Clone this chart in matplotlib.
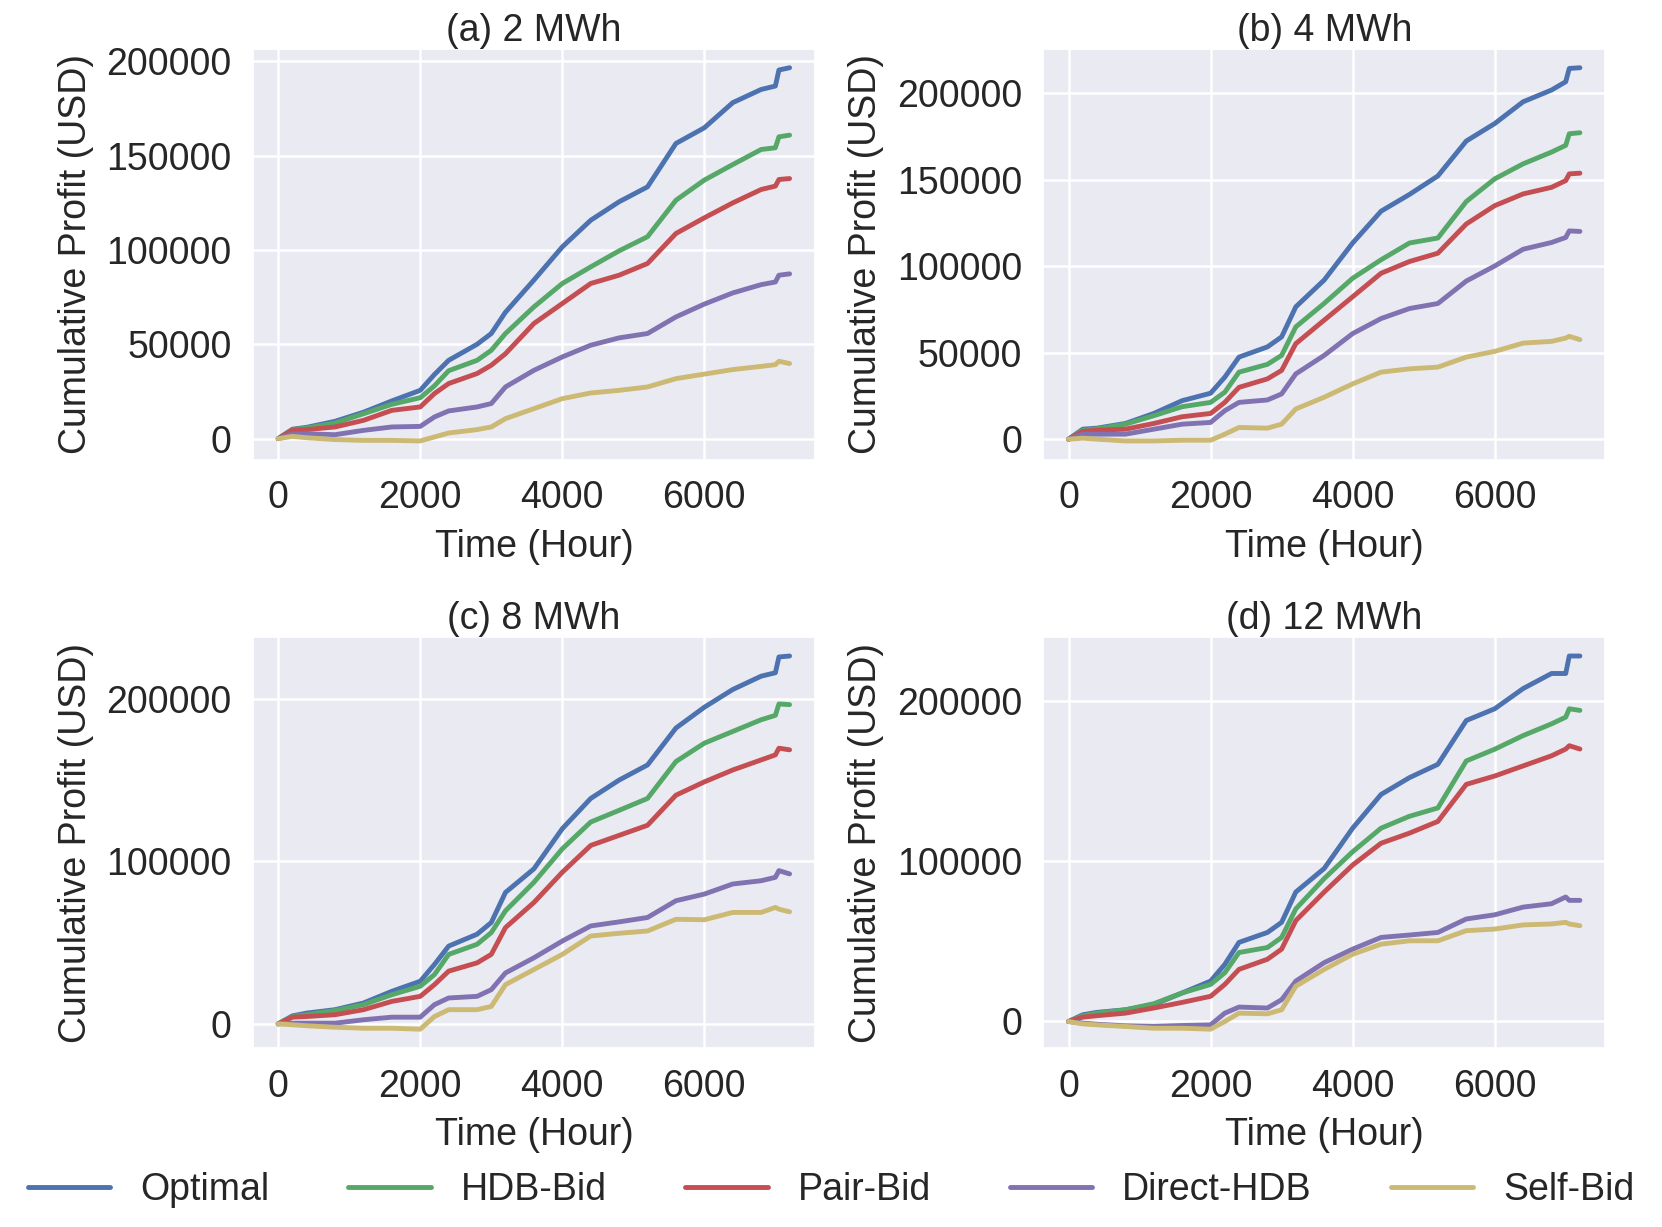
import matplotlib
matplotlib.use("Agg")
import matplotlib.pyplot as plt
from matplotlib.ticker import MultipleLocator
import seaborn as sns

hours = [0, 200, 400, 800, 1200, 1600, 2000, 2200, 2400, 2800, 3000, 3200,
         3600, 4000, 4400, 4800, 5200, 5600, 6000, 6400, 6800, 7000, 7050, 7200]

methods = ["Optimal", "HDB-Bid", "Pair-Bid", "Direct-HDB", "Self-Bid"]
colors = ["#4C72B0", "#55A868", "#C44E52", "#8172B2", "#CCB974"]

titles = ["(a) 2 MWh", "(b) 4 MWh", "(c) 8 MWh", "(d) 12 MWh"]

# (a) 2 MWh
a_optimal = [0, 5000, 6000, 9200, 14000, 20000, 25600, 34000, 41500, 50000, 55700, 67000,
             84000, 101600, 115700, 125500, 133400, 156400, 164700, 178000, 185000, 186800, 195300, 196500]
a_hdb = [0, 4800, 5600, 8300, 13200, 18200, 21700, 28000, 36000, 41500, 46800, 55700,
         69800, 82200, 91000, 99500, 107000, 126300, 137000, 145200, 153200, 154100, 159900, 160800]
a_pair = [0, 4500, 4800, 6200, 9700, 15000, 16800, 23900, 29200, 34500, 38900, 45000,
          61000, 71600, 82200, 86600, 92800, 108700, 117000, 124900, 132000, 133800, 137300, 137800]
a_direct = [0, 2500, 2600, 2100, 4400, 6200, 6500, 11500, 14700, 16800, 18600, 27400,
            36200, 43300, 49500, 53400, 55700, 64500, 71300, 77200, 81600, 83000, 86600, 87300]
a_self = [0, 1200, 500, -500, -900, -900, -1200, 900, 3000, 4800, 6200, 10600,
          15900, 21200, 24200, 25600, 27400, 31800, 34200, 36600, 38300, 39200, 41000, 39800]

# (b) 4 MWh
b_optimal = [0, 5800, 6400, 9100, 14900, 22300, 26600, 35900, 47500, 53400, 59200, 76600,
             92100, 113500, 131900, 141600, 152300, 172500, 182600, 195200, 202000, 206800, 214500, 214900]
b_hdb = [0, 5200, 6000, 8700, 13600, 18800, 21300, 27200, 38800, 43300, 48500, 65000,
         78600, 93100, 103800, 113500, 116400, 137500, 150600, 159300, 166100, 170000, 176700, 177300]
b_pair = [0, 4500, 5200, 5800, 9100, 13000, 14900, 21300, 30000, 34900, 39800, 55300,
          68900, 82400, 96000, 102800, 107600, 124500, 135100, 141900, 145700, 149600, 153500, 153900]
b_direct = [0, 2900, 2900, 2900, 5800, 8700, 9700, 16500, 21300, 22700, 26200, 37800,
            48500, 61100, 69800, 75600, 78500, 91500, 100200, 109900, 113800, 116700, 120500, 120200]
b_self = [0, 600, 0, -1000, -1000, -600, -600, 2900, 6800, 6400, 8700, 17500,
          24300, 32000, 38800, 40700, 41700, 47500, 50800, 55600, 56600, 58500, 59500, 57600]

# (c) 8 MWh
c_optimal = [0, 4900, 6600, 8700, 12800, 20000, 26200, 36500, 47800, 55100, 62300, 80800,
             95300, 120000, 138600, 149900, 159200, 181900, 194700, 205600, 213800, 215900, 225600, 226200]
c_hdb = [0, 4500, 5600, 8200, 11800, 17900, 23100, 30300, 42700, 48900, 56100, 69500,
         87000, 107600, 124100, 131300, 138600, 161300, 172600, 179800, 187000, 189700, 196700, 196300]
c_pair = [0, 4100, 4500, 5600, 8700, 13800, 16900, 24100, 32400, 37500, 42700, 59200,
          74600, 93200, 109700, 115900, 122100, 140600, 148800, 156100, 162300, 165400, 169500, 168500]
c_direct = [0, 400, 400, 400, 2500, 4100, 4100, 11800, 15900, 16900, 21000, 31300,
            40600, 50900, 60200, 62700, 65400, 75700, 79800, 86000, 88000, 90100, 94200, 92200]
c_self = [0, -600, -1200, -2100, -2700, -2700, -3300, 4500, 8700, 8700, 10700, 24100,
          33400, 42700, 54000, 55700, 57100, 64300, 64000, 68500, 68500, 71600, 70500, 68900]

# (d) 12 MWh
d_optimal = [0, 4200, 5700, 7300, 10500, 17800, 25200, 35600, 49300, 55500, 61800, 80700,
             95400, 120500, 141500, 152000, 160300, 187600, 194900, 207500, 216900, 216900, 227800, 227800]
d_hdb = [0, 3600, 5200, 7300, 11100, 17800, 23100, 30400, 43000, 46100, 52400, 70200,
         89100, 105800, 120500, 127900, 133100, 162400, 169700, 178200, 185500, 189700, 194900, 193900]
d_pair = [0, 2700, 3600, 5200, 8400, 11900, 15700, 23100, 32500, 38800, 45100, 62900,
          80700, 97500, 111100, 117400, 124700, 147800, 153000, 159300, 165600, 169800, 171900, 169800]
d_direct = [0, -1000, -1700, -2700, -3100, -2500, -2100, 5200, 9000, 8400, 13600, 25200,
            36700, 45100, 52400, 53900, 55500, 63900, 66500, 71300, 73400, 77600, 75500, 75500]
d_self = [0, -1500, -2100, -3100, -4200, -4200, -4800, 0, 5200, 4800, 7300, 22000,
          32500, 41900, 48200, 50300, 50300, 56600, 57600, 60200, 60800, 61800, 60800, 59700]

panels = [
    [a_optimal, a_hdb, a_pair, a_direct, a_self],
    [b_optimal, b_hdb, b_pair, b_direct, b_self],
    [c_optimal, c_hdb, c_pair, c_direct, c_self],
    [d_optimal, d_hdb, d_pair, d_direct, d_self],
]
y_steps = [50000, 50000, 100000, 100000]

sns.set_theme(style="darkgrid")
plt.rcParams['font.family'] = ['Liberation Sans', 'DejaVu Sans']
plt.rcParams['font.size'] = 27
plt.rcParams['grid.linewidth'] = 1.8

fig, axes = plt.subplots(2, 2, figsize=(16.62, 12.27), dpi=100)
fig.subplots_adjust(left=0.152, right=0.966, top=0.960, bottom=0.146,
                    wspace=0.405, hspace=0.433)

for i, ax in enumerate(axes.flat):
    for series, name, col in zip(panels[i], methods, colors):
        ax.plot(hours, series, color=col, lw=3.5, label=name)
    ax.set_title(titles[i], fontsize=27, pad=6, color=".15")
    ax.set_xlabel("Time (Hour)", fontsize=27, labelpad=9, color=".15")
    ax.set_ylabel("Cumulative Profit (USD)", fontsize=27, labelpad=9, color=".15")
    ax.xaxis.set_major_locator(MultipleLocator(2000))
    ax.yaxis.set_major_locator(MultipleLocator(y_steps[i]))
    ax.tick_params(axis="both", labelsize=27, length=0, pad=15, colors=".15")

handles, labels = axes[0, 0].get_legend_handles_labels()
leg = fig.legend(handles, labels, loc="center", ncol=5, bbox_to_anchor=(0.5, 0.03),
                 frameon=False, fontsize=27, handlelength=2.2, handletextpad=0.8,
                 columnspacing=2.1)
for line in leg.get_lines():
    line.set_linewidth(3.5)

fig.savefig("out.png", dpi=100)
